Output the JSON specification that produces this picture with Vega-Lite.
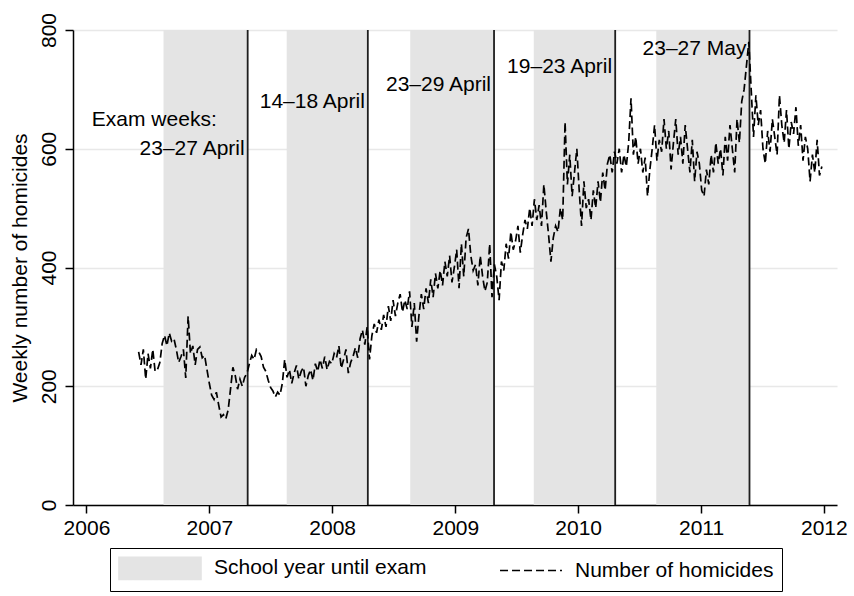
{
  "$schema": "https://vega.github.io/schema/vega-lite/v6.json",
  "width": 764,
  "height": 475,
  "autosize": {"type": "none"},
  "padding": {"left": 73, "top": 30, "right": 17, "bottom": 91},
  "background": "white",
  "config": {
    "font": "Liberation Sans",
    "view": {"stroke": null},
    "axis": {
      "domainColor": "black",
      "domainWidth": 1.5,
      "tickColor": "black",
      "tickWidth": 1.5,
      "tickSize": 8,
      "labelFont": "Liberation Sans",
      "labelFontSize": 21,
      "labelColor": "black",
      "labelFlush": false,
      "labelOverlap": false,
      "titleFont": "Liberation Sans",
      "titleFontSize": 21,
      "titleFontWeight": "normal",
      "titleColor": "black",
      "gridColor": "#e8e8e8",
      "gridWidth": 1.5
    },
    "text": {"font": "Liberation Sans", "fontSize": 21, "color": "black"}
  },
  "datasets": {
    "exams": [
      {"start": "2006-08-18", "exam": "2007-04-25"},
      {"start": "2007-08-19", "exam": "2008-04-16"},
      {"start": "2008-08-20", "exam": "2009-04-26"},
      {"start": "2009-08-22", "exam": "2010-04-21"},
      {"start": "2010-08-21", "exam": "2011-05-25"}
    ],
    "weekly": [
      {"d":"2006-06-05","v":258},{"d":"2006-06-12","v":236},{"d":"2006-06-19","v":262},{"d":"2006-06-26","v":212},
      {"d":"2006-07-03","v":255},{"d":"2006-07-10","v":230},{"d":"2006-07-17","v":262},{"d":"2006-07-24","v":225},{"d":"2006-07-31","v":228},
      {"d":"2006-08-07","v":240},{"d":"2006-08-14","v":272},{"d":"2006-08-21","v":286},{"d":"2006-08-28","v":268},
      {"d":"2006-09-04","v":290},{"d":"2006-09-11","v":276},{"d":"2006-09-18","v":280},{"d":"2006-09-25","v":262},
      {"d":"2006-10-02","v":240},{"d":"2006-10-09","v":250},{"d":"2006-10-16","v":262},{"d":"2006-10-23","v":214},{"d":"2006-10-30","v":318},
      {"d":"2006-11-06","v":255},{"d":"2006-11-13","v":268},{"d":"2006-11-20","v":236},{"d":"2006-11-27","v":262},
      {"d":"2006-12-04","v":266},{"d":"2006-12-11","v":248},{"d":"2006-12-18","v":252},{"d":"2006-12-25","v":228},
      {"d":"2007-01-01","v":205},{"d":"2007-01-08","v":185},{"d":"2007-01-15","v":178},{"d":"2007-01-22","v":190},{"d":"2007-01-29","v":168},
      {"d":"2007-02-05","v":148},{"d":"2007-02-12","v":152},{"d":"2007-02-19","v":145},{"d":"2007-02-26","v":160},
      {"d":"2007-03-05","v":195},{"d":"2007-03-12","v":232},{"d":"2007-03-19","v":218},{"d":"2007-03-26","v":195},
      {"d":"2007-04-02","v":212},{"d":"2007-04-09","v":200},{"d":"2007-04-16","v":215},{"d":"2007-04-23","v":222},{"d":"2007-04-30","v":238},
      {"d":"2007-05-07","v":252},{"d":"2007-05-14","v":245},{"d":"2007-05-21","v":262},{"d":"2007-05-28","v":258},
      {"d":"2007-06-04","v":250},{"d":"2007-06-11","v":232},{"d":"2007-06-18","v":225},{"d":"2007-06-25","v":210},
      {"d":"2007-07-02","v":198},{"d":"2007-07-09","v":192},{"d":"2007-07-16","v":182},{"d":"2007-07-23","v":190},{"d":"2007-07-30","v":185},
      {"d":"2007-08-06","v":205},{"d":"2007-08-13","v":245},{"d":"2007-08-20","v":215},{"d":"2007-08-27","v":228},
      {"d":"2007-09-03","v":205},{"d":"2007-09-10","v":222},{"d":"2007-09-17","v":235},{"d":"2007-09-24","v":212},
      {"d":"2007-10-01","v":225},{"d":"2007-10-08","v":232},{"d":"2007-10-15","v":200},{"d":"2007-10-22","v":218},{"d":"2007-10-29","v":228},
      {"d":"2007-11-05","v":210},{"d":"2007-11-12","v":238},{"d":"2007-11-19","v":225},{"d":"2007-11-26","v":245},
      {"d":"2007-12-03","v":230},{"d":"2007-12-10","v":250},{"d":"2007-12-17","v":228},{"d":"2007-12-24","v":242},{"d":"2007-12-31","v":238},
      {"d":"2008-01-07","v":255},{"d":"2008-01-14","v":248},{"d":"2008-01-21","v":268},{"d":"2008-01-28","v":230},
      {"d":"2008-02-04","v":245},{"d":"2008-02-11","v":262},{"d":"2008-02-18","v":222},{"d":"2008-02-25","v":240},
      {"d":"2008-03-03","v":250},{"d":"2008-03-10","v":265},{"d":"2008-03-17","v":248},{"d":"2008-03-24","v":280},{"d":"2008-03-31","v":295},
      {"d":"2008-04-07","v":270},{"d":"2008-04-14","v":300},{"d":"2008-04-21","v":245},{"d":"2008-04-28","v":285},
      {"d":"2008-05-05","v":305},{"d":"2008-05-12","v":290},{"d":"2008-05-19","v":312},{"d":"2008-05-26","v":295},
      {"d":"2008-06-02","v":320},{"d":"2008-06-09","v":300},{"d":"2008-06-16","v":335},{"d":"2008-06-23","v":310},{"d":"2008-06-30","v":345},
      {"d":"2008-07-07","v":318},{"d":"2008-07-14","v":340},{"d":"2008-07-21","v":355},{"d":"2008-07-28","v":325},
      {"d":"2008-08-04","v":345},{"d":"2008-08-11","v":330},{"d":"2008-08-18","v":360},{"d":"2008-08-25","v":300},
      {"d":"2008-09-01","v":340},{"d":"2008-09-08","v":275},{"d":"2008-09-15","v":320},{"d":"2008-09-22","v":355},{"d":"2008-09-29","v":330},
      {"d":"2008-10-06","v":365},{"d":"2008-10-13","v":340},{"d":"2008-10-20","v":380},{"d":"2008-10-27","v":350},
      {"d":"2008-11-03","v":390},{"d":"2008-11-10","v":365},{"d":"2008-11-17","v":395},{"d":"2008-11-24","v":370},
      {"d":"2008-12-01","v":410},{"d":"2008-12-08","v":385},{"d":"2008-12-15","v":420},{"d":"2008-12-22","v":375},{"d":"2008-12-29","v":400},
      {"d":"2009-01-05","v":430},{"d":"2009-01-12","v":365},{"d":"2009-01-19","v":440},{"d":"2009-01-26","v":385},
      {"d":"2009-02-02","v":450},{"d":"2009-02-09","v":465},{"d":"2009-02-16","v":420},{"d":"2009-02-23","v":395},
      {"d":"2009-03-02","v":405},{"d":"2009-03-09","v":370},{"d":"2009-03-16","v":420},{"d":"2009-03-23","v":385},{"d":"2009-03-30","v":360},
      {"d":"2009-04-06","v":375},{"d":"2009-04-13","v":440},{"d":"2009-04-20","v":350},{"d":"2009-04-27","v":405},
      {"d":"2009-05-04","v":385},{"d":"2009-05-11","v":345},{"d":"2009-05-18","v":410},{"d":"2009-05-25","v":395},
      {"d":"2009-06-01","v":440},{"d":"2009-06-08","v":415},{"d":"2009-06-15","v":460},{"d":"2009-06-22","v":430},{"d":"2009-06-29","v":445},
      {"d":"2009-07-06","v":470},{"d":"2009-07-13","v":425},{"d":"2009-07-20","v":455},{"d":"2009-07-27","v":480},
      {"d":"2009-08-03","v":465},{"d":"2009-08-10","v":500},{"d":"2009-08-17","v":470},{"d":"2009-08-24","v":515},{"d":"2009-08-31","v":480},
      {"d":"2009-09-07","v":505},{"d":"2009-09-14","v":470},{"d":"2009-09-21","v":540},{"d":"2009-09-28","v":495},
      {"d":"2009-10-05","v":455},{"d":"2009-10-12","v":410},{"d":"2009-10-19","v":450},{"d":"2009-10-26","v":470},
      {"d":"2009-11-02","v":460},{"d":"2009-11-09","v":500},{"d":"2009-11-16","v":480},{"d":"2009-11-23","v":645},{"d":"2009-11-30","v":540},
      {"d":"2009-12-07","v":590},{"d":"2009-12-14","v":520},{"d":"2009-12-21","v":560},{"d":"2009-12-28","v":600},
      {"d":"2010-01-04","v":530},{"d":"2010-01-11","v":470},{"d":"2010-01-18","v":545},{"d":"2010-01-25","v":500},
      {"d":"2010-02-01","v":515},{"d":"2010-02-08","v":480},{"d":"2010-02-15","v":530},{"d":"2010-02-22","v":500},
      {"d":"2010-03-01","v":545},{"d":"2010-03-08","v":510},{"d":"2010-03-15","v":560},{"d":"2010-03-22","v":530},{"d":"2010-03-29","v":575},
      {"d":"2010-04-05","v":590},{"d":"2010-04-12","v":560},{"d":"2010-04-19","v":595},{"d":"2010-04-26","v":575},
      {"d":"2010-05-03","v":600},{"d":"2010-05-10","v":560},{"d":"2010-05-17","v":590},{"d":"2010-05-24","v":570},{"d":"2010-05-31","v":610},
      {"d":"2010-06-07","v":685},{"d":"2010-06-14","v":590},{"d":"2010-06-21","v":620},{"d":"2010-06-28","v":575},
      {"d":"2010-07-05","v":600},{"d":"2010-07-12","v":560},{"d":"2010-07-19","v":585},{"d":"2010-07-26","v":520},
      {"d":"2010-08-02","v":565},{"d":"2010-08-09","v":600},{"d":"2010-08-16","v":640},{"d":"2010-08-23","v":580},{"d":"2010-08-30","v":615},
      {"d":"2010-09-06","v":595},{"d":"2010-09-13","v":650},{"d":"2010-09-20","v":600},{"d":"2010-09-27","v":630},
      {"d":"2010-10-04","v":565},{"d":"2010-10-11","v":610},{"d":"2010-10-18","v":650},{"d":"2010-10-25","v":590},
      {"d":"2010-11-01","v":620},{"d":"2010-11-08","v":575},{"d":"2010-11-15","v":640},{"d":"2010-11-22","v":600},{"d":"2010-11-29","v":560},
      {"d":"2010-12-06","v":615},{"d":"2010-12-13","v":545},{"d":"2010-12-20","v":595},{"d":"2010-12-27","v":575},
      {"d":"2011-01-03","v":530},{"d":"2011-01-10","v":520},{"d":"2011-01-17","v":565},{"d":"2011-01-24","v":540},{"d":"2011-01-31","v":590},
      {"d":"2011-02-07","v":560},{"d":"2011-02-14","v":610},{"d":"2011-02-21","v":575},{"d":"2011-02-28","v":600},
      {"d":"2011-03-07","v":555},{"d":"2011-03-14","v":620},{"d":"2011-03-21","v":580},{"d":"2011-03-28","v":640},
      {"d":"2011-04-04","v":600},{"d":"2011-04-11","v":560},{"d":"2011-04-18","v":650},{"d":"2011-04-25","v":610},
      {"d":"2011-05-02","v":680},{"d":"2011-05-09","v":700},{"d":"2011-05-16","v":740},{"d":"2011-05-23","v":780},{"d":"2011-05-30","v":700},
      {"d":"2011-06-06","v":620},{"d":"2011-06-13","v":690},{"d":"2011-06-20","v":640},{"d":"2011-06-27","v":665},
      {"d":"2011-07-04","v":600},{"d":"2011-07-11","v":575},{"d":"2011-07-18","v":630},{"d":"2011-07-25","v":595},
      {"d":"2011-08-01","v":650},{"d":"2011-08-08","v":620},{"d":"2011-08-15","v":590},{"d":"2011-08-22","v":690},{"d":"2011-08-29","v":640},
      {"d":"2011-09-05","v":610},{"d":"2011-09-12","v":665},{"d":"2011-09-19","v":600},{"d":"2011-09-26","v":645},
      {"d":"2011-10-03","v":625},{"d":"2011-10-10","v":670},{"d":"2011-10-17","v":605},{"d":"2011-10-24","v":640},{"d":"2011-10-31","v":580},
      {"d":"2011-11-07","v":620},{"d":"2011-11-14","v":600},{"d":"2011-11-21","v":545},{"d":"2011-11-28","v":590},
      {"d":"2011-12-05","v":560},{"d":"2011-12-12","v":615},{"d":"2011-12-19","v":555},{"d":"2011-12-26","v":570}
    ]
  },
  "layer": [
    {
      "data": {"name": "exams"},
      "mark": {"type": "rect"},
      "encoding": {
        "x": {
          "field": "start",
          "type": "temporal",
          "scale": {
            "domain": [{"year": 2005, "month": 11, "date": 22}, {"year": 2012, "month": 2, "date": 9}]
          },
          "axis": {
            "title": null,
            "grid": false,
            "format": "%Y",
            "values": [{"year": 2006}, {"year": 2007}, {"year": 2008}, {"year": 2009}, {"year": 2010}, {"year": 2011}, {"year": 2012}],
            "labelPadding": 4
          }
        },
        "x2": {"field": "exam"},
        "y": {
          "datum": 800,
          "type": "quantitative",
          "scale": {"domain": [0, 800], "nice": false},
          "axis": {
            "title": "Weekly number of homicides",
            "values": [0, 200, 400, 600, 800],
            "grid": true,
            "labelAngle": 270,
            "labelAlign": "center",
            "labelBaseline": "bottom",
            "labelPadding": 6,
            "titlePadding": 8
          }
        },
        "y2": {"datum": 0},
        "color": {
          "datum": "School year until exam",
          "type": "nominal",
          "scale": {
            "domain": ["School year until exam", "Number of homicides"],
            "range": ["#e4e4e4", "#000000"]
          },
          "legend": {
            "title": null,
            "orient": "none",
            "legendX": 37,
            "legendY": 518,
            "direction": "horizontal",
            "symbolSize": 484,
            "labelFont": "Liberation Sans",
            "labelFontSize": 21,
            "labelColor": "black",
            "labelOffset": 72,
            "labelLimit": 400,
            "columnPadding": 52,
            "padding": 8,
            "strokeColor": "black",
            "fillColor": "white",
            "cornerRadius": 0,
            "encode": {
              "symbols": {
                "update": {
                  "shape": [
                    {"test": "datum.value === 'Number of homicides'", "value": "M0.82,0H6.45"},
                    {"value": "M-1,-1H6.45V1H-1Z"}
                  ],
                  "fill": [
                    {"test": "datum.value === 'Number of homicides'", "value": "transparent"},
                    {"value": "#e4e4e4"}
                  ],
                  "stroke": [
                    {"test": "datum.value === 'Number of homicides'", "value": "#000000"},
                    {"value": "transparent"}
                  ],
                  "strokeDash": [
                    {"test": "datum.value === 'Number of homicides'", "value": [8, 4]},
                    {"value": [1, 0]}
                  ],
                  "strokeWidth": {"value": 1.7},
                  "opacity": {"value": 1}
                }
              }
            }
          }
        }
      }
    },
    {
      "data": {"name": "exams"},
      "mark": {"type": "rule", "color": "#1e1e1e", "strokeWidth": 1.8},
      "encoding": {
        "x": {"field": "exam", "type": "temporal"},
        "y": {"datum": 0, "type": "quantitative"},
        "y2": {"datum": 800}
      }
    },
    {
      "data": {"name": "weekly"},
      "mark": {"type": "line", "strokeWidth": 1.7, "strokeDash": [8, 4], "interpolate": "linear"},
      "encoding": {
        "x": {"field": "d", "type": "temporal"},
        "y": {"field": "v", "type": "quantitative"},
        "color": {"datum": "Number of homicides", "type": "nominal"}
      }
    },
    {
      "data": {"values": [{}]},
      "mark": {"type": "text", "align": "left", "baseline": "middle"},
      "encoding": {
        "x": {"datum": {"year": 2006, "month": 1, "date": 17}, "type": "temporal"},
        "y": {"datum": 648, "type": "quantitative"},
        "text": {"value": "Exam weeks:"}
      }
    },
    {
      "data": {"values": [{}]},
      "mark": {"type": "text", "align": "right", "baseline": "middle", "dx": -3},
      "encoding": {
        "x": {"datum": {"year": 2007, "month": 4, "date": 25}, "type": "temporal"},
        "y": {"datum": 600, "type": "quantitative"},
        "text": {"value": "23–27 April"}
      }
    },
    {
      "data": {"values": [{}]},
      "mark": {"type": "text", "align": "right", "baseline": "middle", "dx": -3},
      "encoding": {
        "x": {"datum": {"year": 2008, "month": 4, "date": 16}, "type": "temporal"},
        "y": {"datum": 678, "type": "quantitative"},
        "text": {"value": "14–18 April"}
      }
    },
    {
      "data": {"values": [{}]},
      "mark": {"type": "text", "align": "right", "baseline": "middle", "dx": -3},
      "encoding": {
        "x": {"datum": {"year": 2009, "month": 4, "date": 26}, "type": "temporal"},
        "y": {"datum": 707, "type": "quantitative"},
        "text": {"value": "23–29 April"}
      }
    },
    {
      "data": {"values": [{}]},
      "mark": {"type": "text", "align": "right", "baseline": "middle", "dx": -3},
      "encoding": {
        "x": {"datum": {"year": 2010, "month": 4, "date": 21}, "type": "temporal"},
        "y": {"datum": 738, "type": "quantitative"},
        "text": {"value": "19–23 April"}
      }
    },
    {
      "data": {"values": [{}]},
      "mark": {"type": "text", "align": "right", "baseline": "middle", "dx": -3},
      "encoding": {
        "x": {"datum": {"year": 2011, "month": 5, "date": 25}, "type": "temporal"},
        "y": {"datum": 768, "type": "quantitative"},
        "text": {"value": "23–27 May"}
      }
    }
  ]
}
